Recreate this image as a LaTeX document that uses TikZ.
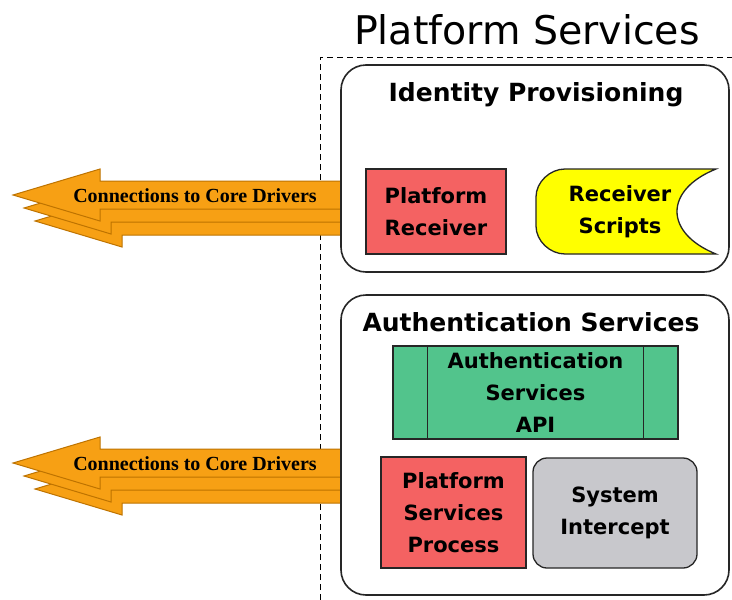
\documentclass[tikz,border=0pt]{standalone}
\usepackage{fontspec}
\setmainfont{DejaVu Sans}
\newfontfamily\arrowfont{Liberation Serif}
\usepackage{tikz}

\definecolor{recvred}{RGB}{244,98,98}
\definecolor{apigreen}{RGB}{82,196,140}
\definecolor{scriptyellow}{RGB}{255,255,0}
\definecolor{interceptgrey}{RGB}{200,200,204}
\definecolor{drvorange}{RGB}{247,160,20}
\definecolor{drvedge}{RGB}{190,115,0}

\begin{document}
\begin{tikzpicture}[x = 1pt, y = -1pt,
        box/.style = {draw = black!85, line width = 1.3pt, fill = #1, minimum width = 140pt, minimum height = 85pt, inner sep = 0pt, align = center, font = \fontsize{21}{32}\selectfont\bfseries},
        group/.style = {draw = black!85, line width = 1.6pt, rounded corners = 25pt, minimum width = 388pt, inner sep = 0pt},
        heading/.style = {font = \fontsize{25}{30}\selectfont\bfseries},
        feed/.style = {fill = drvorange, draw = drvedge, line width = 1pt}]
    \useasboundingbox[fill = white] (0, 0) rectangle (732, 600);

    \node[font = \fontsize{39.5}{44}\selectfont] (title) at (527, 30) {Platform Services};
    \draw[dashed, dash pattern = on 6pt off 4pt, line width = 0.9pt] (320, 600) |- (732, 57);

    % arrows to the core drivers
    \foreach \y/\name in {0/upper, 268/lower} {
        \foreach \dx/\dy in {22/26, 11/13, 0/0}
            \draw[feed] (13 + \dx, 195 + \y + \dy) -- (100 + \dx, 169 + \y + \dy) -- (100 + \dx, 181 + \y + \dy)
                  -- (341, 181 + \y + \dy) -- (341, 209 + \y + \dy) -- (100 + \dx, 209 + \y + \dy)
                  -- (100 + \dx, 221 + \y + \dy) -- cycle;
        \node[font = \arrowfont\bfseries\fontsize{20}{24}\selectfont] (drv\name) at (195, 196 + \y) {Connections to Core Drivers};
    }

    % identity provisioning
    \node[group, minimum height = 207pt] (idp) at (535, 168.5) {};
    \node[heading] (idptitle) at (536, 95) {Identity Provisioning};
    \node[box = recvred] (receiver) at (436, 211.5) {Platform\\Receiver};
    \draw[line width = 1.3pt, draw = black!85, fill = scriptyellow] (716, 169) .. controls (664, 190) and (664, 233) .. (716, 254)
          -- (565, 254) .. controls (550, 254) and (536, 241) .. (536, 226) -- (536, 197) .. controls (536, 182) and (550, 169) .. (565, 169) -- cycle;
    \node[font = \fontsize{21}{32}\selectfont\bfseries, align = center] (scripts) at (620, 212) {Receiver\\Scripts};

    % authentication services
    \node[group, minimum height = 300pt] (auth) at (535, 445) {};
    \node[heading] (authtitle) at (531, 322) {Authentication Services};
    \node[box = apigreen, minimum width = 285pt, minimum height = 93pt] (api) at (535.5, 392.5) {Authentication\\Services\\API};
    \draw[line width = 1.3pt, draw = black!85] ([xshift = 35pt] api.north west) -- ([xshift = 35pt] api.south west)
          ([xshift = -35pt] api.north east) -- ([xshift = -35pt] api.south east);
    \node[box = recvred, minimum width = 145pt, minimum height = 111pt] (process) at (453.5, 512.5) {Platform\\Services\\Process};
    \node[box = interceptgrey, rounded corners = 14pt, minimum width = 164pt, minimum height = 110pt] (intercept) at (615, 513) {System\\Intercept};
\end{tikzpicture}
\end{document}
